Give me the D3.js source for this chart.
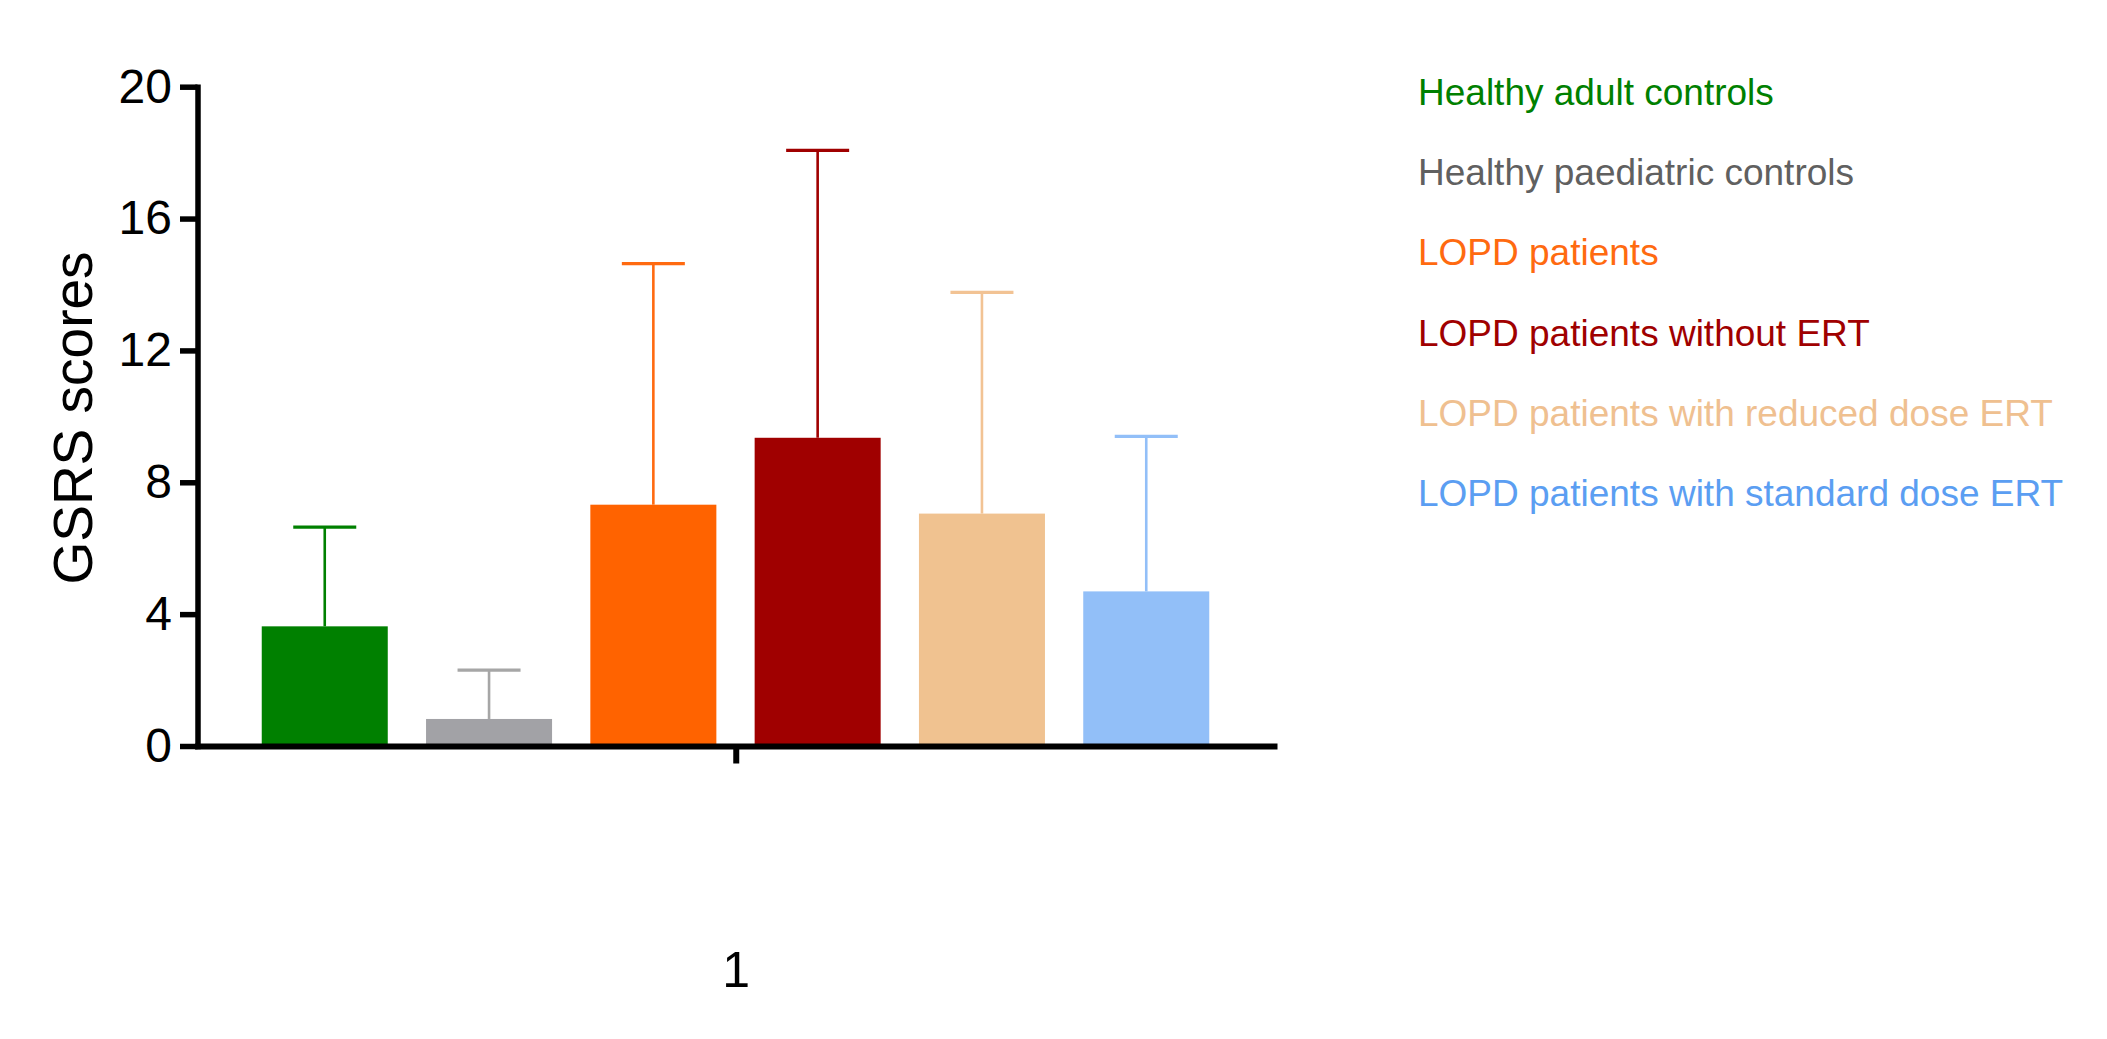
<!DOCTYPE html>
<html>
<head>
<meta charset="utf-8">
<script src="https://cdn.jsdelivr.net/npm/d3@7"></script>
<style>
html,body{margin:0;padding:0;background:#fff;}
svg{display:block;}
text{font-family:Arial,"Liberation Sans",Helvetica,sans-serif;}
</style>
</head>
<body>
<svg id="chart" width="2107" height="1039"></svg>
<script>
// ---- data ----
const groups = [
  "Healthy adult controls",
  "Healthy paediatric controls",
  "LOPD patients",
  "LOPD patients without ERT",
  "LOPD patients with reduced dose ERT",
  "LOPD patients with standard dose ERT"
];
const means = [3.63, 0.82, 7.32, 9.35, 7.05, 4.69];
const sds   = [3.01, 1.48, 7.31, 8.72, 6.71, 4.70];
const barColors    = ["#008000", "#a2a2a6", "#ff6300", "#a00000", "#f0c290", "#92bff8"];
const errorColors  = ["#008000", "#a6a6a6", "#ff6a10", "#a00000", "#f2c394", "#92bff8"];
const legendColors = ["#008000", "#606060", "#ff6a10", "#a00000", "#efc090", "#5b9ef2"];
const yTicks = [0, 4, 8, 12, 16, 20];
const xCategories = ["1"];
const yLabel = "GSRS scores";

// ---- layout ----
const svg = d3.select("#chart");
const y0 = 746, y20 = 86.7;
const xAxisLeft = 197.5, xAxisRight = 1274;

const y = d3.scaleLinear().domain([0, 20]).range([y0, y20]);
const x = d3.scaleBand().domain(groups).range([242.6, 1228.4])
  .paddingInner(0.233).paddingOuter(0.1165);
const xCat = d3.scalePoint().domain(xCategories).range([xAxisLeft, xAxisRight]).padding(0.5);

// bars
svg.append("g").selectAll("rect").data(groups).join("rect")
  .attr("x", d => x(d))
  .attr("width", x.bandwidth())
  .attr("y", (d, i) => y(means[i]))
  .attr("height", (d, i) => y(0) - y(means[i]))
  .attr("fill", (d, i) => barColors[i]);

// error bars (upper only)
const eb = svg.append("g");
groups.forEach((g, i) => {
  const cx = x(g) + x.bandwidth() / 2;
  const top = y(means[i] + sds[i]);
  eb.append("line")
    .attr("x1", cx).attr("x2", cx)
    .attr("y1", y(means[i])).attr("y2", top)
    .attr("stroke", errorColors[i]).attr("stroke-width", 2.6);
  eb.append("line")
    .attr("x1", cx - x.bandwidth() * 0.25).attr("x2", cx + x.bandwidth() * 0.25)
    .attr("y1", top).attr("y2", top)
    .attr("stroke", errorColors[i]).attr("stroke-width", 3.2);
});

// y axis
const gy = svg.append("g").attr("transform", `translate(${xAxisLeft},0)`)
  .call(d3.axisLeft(y).tickValues(yTicks).tickSize(17.5).tickSizeOuter(0).tickPadding(8).tickFormat(d3.format("d")));
gy.select(".domain").attr("stroke", "#000").attr("stroke-width", 5.5).attr("stroke-linecap", "square");
gy.selectAll(".tick line").attr("stroke", "#000").attr("stroke-width", 5.5);
gy.selectAll(".tick text").attr("font-size", 48).attr("fill", "#000")
  .attr("font-family", "Arial, 'Liberation Sans', sans-serif");

// x axis
const gx = svg.append("g").attr("transform", `translate(0,${y0})`)
  .call(d3.axisBottom(xCat).tickSize(17.5).tickSizeOuter(0).tickPadding(188));
gx.select(".domain").attr("stroke", "#000").attr("stroke-width", 6).attr("stroke-linecap", "square");
gx.selectAll(".tick line").attr("stroke", "#000").attr("stroke-width", 6);
gx.selectAll(".tick text").attr("font-size", 50).attr("fill", "#000")
  .attr("font-family", "Arial, 'Liberation Sans', sans-serif");

// y label
svg.append("text")
  .attr("transform", `translate(91.5,418) rotate(-90)`)
  .attr("text-anchor", "middle")
  .attr("font-size", 55)
  .attr("fill", "#000")
  .text(yLabel);

// legend
svg.append("g").selectAll("text").data(groups).join("text")
  .attr("x", 1418)
  .attr("y", (d, i) => 105 + i * 80.2)
  .attr("font-size", 37)
  .attr("fill", (d, i) => legendColors[i])
  .text(d => d);
</script>
</body>
</html>
